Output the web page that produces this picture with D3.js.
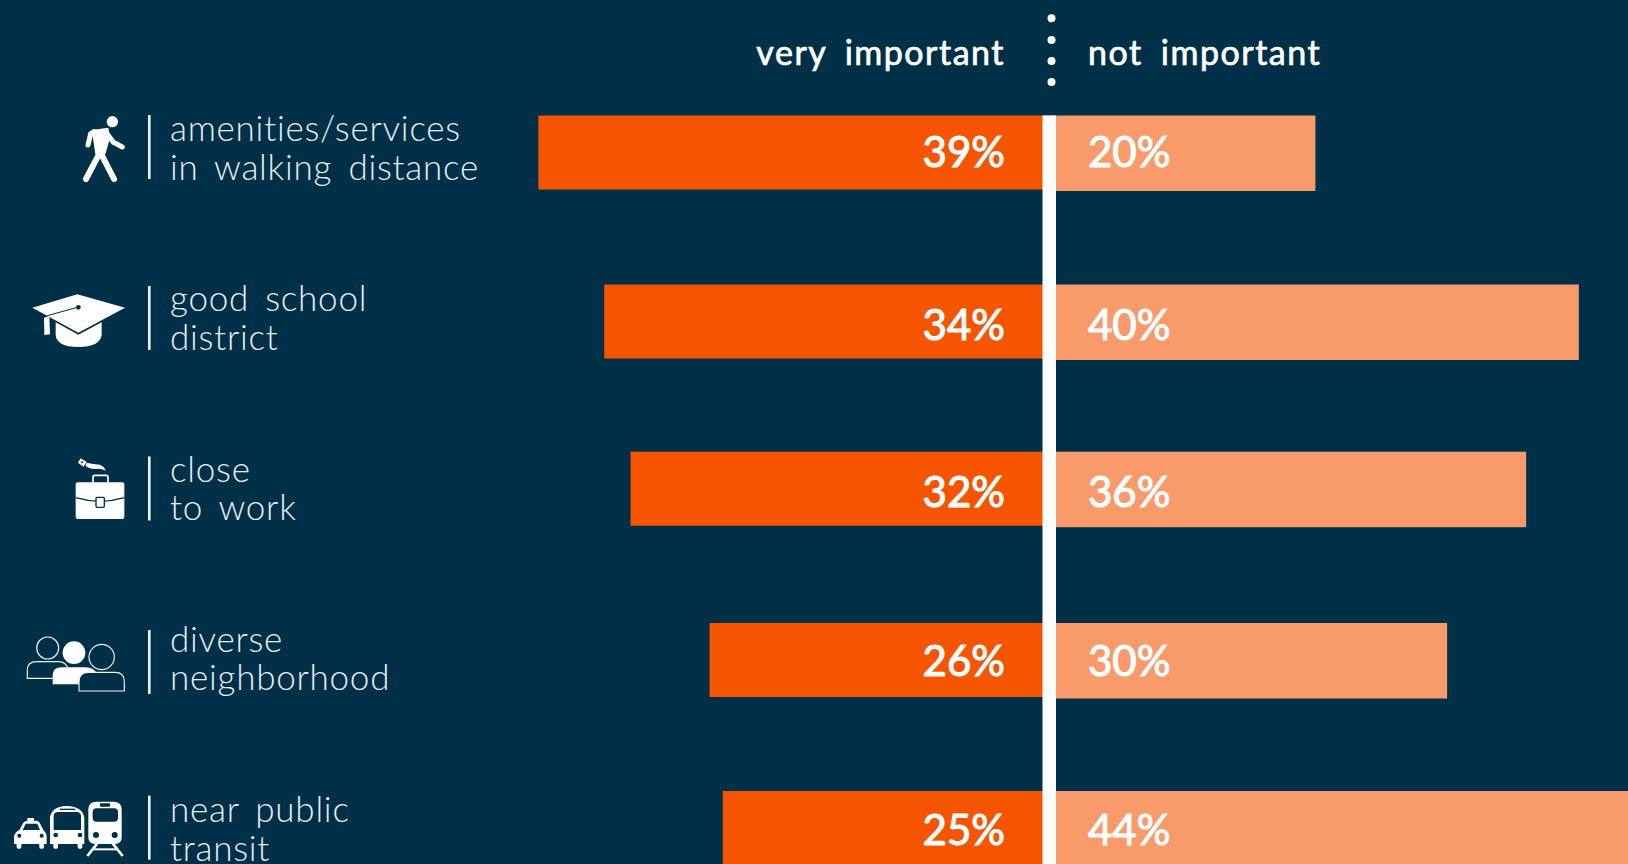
<!DOCTYPE html>
<html>
<head>
<meta charset="utf-8">
<script src="https://cdn.jsdelivr.net/npm/d3@7"></script>
<style>
  html, body { margin: 0; padding: 0; background: #003047; overflow: hidden; }
  svg { display: block; }
  text { fill: #fff; font-family: Lato, "Open Sans", sans-serif; }
</style>
</head>
<body>
<svg id="chart" width="1628" height="864"></svg>
<script>
// Survey results: what matters when choosing where to live
const categories = ["walking", "school", "work", "diverse", "transit"];
const labelLines = [
  ["amenities/services", "in walking distance"],
  ["good school", "district"],
  ["close", "to work"],
  ["diverse", "neighborhood"],
  ["near public", "transit"]
];
const veryImportant = [39, 34, 32, 26, 25];
const notImportant = [20, 40, 36, 30, 44];
const headerLeft = "very important";
const headerRight = "not important";

// Layout of the rows; the label column and bar column sit on slightly different rhythms
const barTops = [115.5, 284.5, 451.7, 623, 791];
const valueBaselines = [167.4, 339.8, 507, 676, 844.5];
const ruleTops = [115, 286, 456.5, 630, 795.7];
const labelBaselines = [141, 311.3, 481.6, 651.9, 822.2];

const BG = "#003047", ORANGE = "#f55500", PEACH = "#f99a6a", WHITE = "#ffffff";
const CENTER = 1052;

const svg = d3.select("#chart");
svg.append("rect").attr("width", 1628).attr("height", 864).attr("fill", BG);

// One length scale shared by both directions, measured out from the centre
const len = d3.scaleLinear().domain([0, 44]).range([0, 579.5]);

const rows = svg.append("g").selectAll("g").data(categories).join("g");

rows.append("rect")
  .attr("x", (c, i) => CENTER - len(veryImportant[i]))
  .attr("y", (c, i) => barTops[i])
  .attr("width", (c, i) => len(veryImportant[i]))
  .attr("height", 74)
  .attr("fill", ORANGE);

rows.append("rect")
  .attr("x", CENTER)
  .attr("y", (c, i) => barTops[i])
  .attr("width", (c, i) => len(notImportant[i]))
  .attr("height", 75.5)
  .attr("fill", PEACH);

// Central divider
svg.append("rect").attr("x", 1042.5).attr("y", 115.5).attr("width", 13.5).attr("height", 750).attr("fill", WHITE);

// Value labels, thickened slightly with a hairline stroke
const valueText = sel => sel
  .attr("y", (c, i) => valueBaselines[i])
  .attr("font-size", 42).attr("font-weight", 400)
  .attr("stroke", WHITE).attr("stroke-width", 1.1);
rows.append("text").call(valueText)
  .attr("x", 1005).attr("text-anchor", "end")
  .text((c, i) => veryImportant[i] + "%");
rows.append("text").call(valueText)
  .attr("x", 1088)
  .text((c, i) => notImportant[i] + "%");

// Column headers and the dotted separator
const headerText = sel => sel
  .attr("y", 65).attr("font-size", 34).attr("font-weight", 400)
  .attr("stroke", WHITE).attr("stroke-width", 0.7)
  .attr("letter-spacing", 1.5).attr("word-spacing", 8);
svg.append("text").call(headerText).attr("x", 1005).attr("text-anchor", "end").text(headerLeft);
svg.append("text").call(headerText).attr("x", 1088).text(headerRight);
svg.append("g").selectAll("circle").data([18.3, 40, 61, 82]).join("circle")
  .attr("cx", 1051.5).attr("cy", d => d).attr("r", 4).attr("fill", WHITE);

// Category labels with a short rule beside them
rows.append("rect")
  .attr("x", 148).attr("y", (c, i) => ruleTops[i]).attr("width", 2.6).attr("height", 64).attr("fill", "#eef2f4");
rows.each(function (c, i) {
  const t = d3.select(this).append("text").attr("font-size", 35).attr("font-weight", 300)
    .attr("letter-spacing", 0.75).attr("word-spacing", 6).style("fill", "#e9eef1");
  labelLines[i].forEach((line, k) => {
    t.append("tspan").attr("x", 170).attr("y", labelBaselines[i] + k * 38.5).text(line);
  });
});

// Pictograms, authored on a 3x grid and placed relative to each rule
const iconPlacement = {
  walking: [70, -10], school: [20, -1], work: [60, -6.5], diverse: [20, -5], transit: [0, -15.7]
};
const icons = {
  walking(g) {
    g.append("circle").attr("cx", 127).attr("cy", 50).attr("r", 17).attr("fill", WHITE);
    g.append("path").attr("d", "M65,75 L115,68 L120,100 L106,148 L76,148 L72,120 Z").attr("fill", WHITE);
    g.append("path").attr("fill", "none").attr("stroke", WHITE).attr("stroke-width", 15).attr("stroke-linecap", "round").attr("stroke-linejoin", "round")
      .attr("d", "M72,80 L62,86 L54,120 M108,82 L130,112 L157,126");
    g.append("path").attr("fill", "none").attr("stroke", WHITE).attr("stroke-width", 18).attr("stroke-linecap", "round")
      .attr("d", "M88,146 L48,222 M93,146 L132,222");
  },
  school(g) {
    g.append("path").attr("fill", WHITE).attr("d", "M107,112 L175,149 L245,112 L245,150 Q240,186 175,186 Q110,186 107,150 Z");
    g.append("path").attr("fill", WHITE).attr("d", "M37,68 L172,28 L315,68 L175,143 Z");
    g.append("path").attr("fill", WHITE).attr("d", "M72,98 L88,93 L90,148 L73,150 Z");
    g.append("path").attr("stroke", BG).attr("stroke-width", 3).attr("fill", "none").attr("d", "M82,92 L172,67");
    g.append("circle").attr("cx", 175).attr("cy", 67).attr("r", 7).attr("fill", BG);
  },
  work(g) {
    g.append("rect").attr("x", 99).attr("y", 76).attr("width", 45).attr("height", 30).attr("rx", 5).attr("fill", "none").attr("stroke", WHITE).attr("stroke-width", 5);
    g.append("rect").attr("x", 47).attr("y", 97).attr("width", 146).attr("height", 110).attr("rx", 6).attr("fill", WHITE);
    g.append("path").attr("d", "M47,143 Q120,165 193,143").attr("stroke", BG).attr("stroke-width", 4).attr("fill", "none");
    g.append("rect").attr("x", 108).attr("y", 142).attr("width", 25).attr("height", 30).attr("rx", 3).attr("fill", WHITE).attr("stroke", BG).attr("stroke-width", 4);
    g.append("path").attr("fill", WHITE).attr("d", "M62,25 L80,36 L70,50 L54,38 Z");
    g.append("path").attr("fill", WHITE).attr("d", "M80,38 Q100,43 120,44 Q134,50 137,62 Q125,55 105,57 Q85,55 76,47 Z");
    g.append("circle").attr("cx", 66).attr("cy", 37).attr("r", 3).attr("fill", BG);
  },
  diverse(g) {
    const outline = sel => sel.attr("fill", BG).attr("stroke", "#eef2f4").attr("stroke-width", 3.5);
    outline(g.append("circle").attr("cx", 83).attr("cy", 69).attr("r", 33));
    outline(g.append("path").attr("d", "M22,160 V135 Q22,110 50,110 H115 Q140,110 145,135 V160 Z"));
    g.append("circle").attr("cx", 162).attr("cy", 83).attr("r", 34).attr("fill", WHITE);
    g.append("path").attr("fill", WHITE).attr("d", "M98,178 V152 Q98,127 125,127 H195 Q225,127 232,150 V178 Z");
    outline(g.append("circle").attr("cx", 245).attr("cy", 96).attr("r", 38));
    outline(g.append("path").attr("d", "M177,198 V170 Q177,142 205,142 H285 Q313,142 313,170 V198 Z"));
  },
  transit(g) {
    // taxi
    g.append("rect").attr("x", 82).attr("y", 114).attr("width", 20).attr("height", 10).attr("fill", WHITE);
    g.append("path").attr("fill", WHITE).attr("d", "M58,150 L70,128 Q74,122 85,122 H108 Q115,122 119,128 L130,150 Q140,158 140,172 V192 H42 V172 Q42,158 58,150 Z");
    g.append("path").attr("fill", BG).attr("d", "M68,150 L77,131 H112 L120,150 Z");
    [50, 118].forEach(x => g.append("rect").attr("x", x).attr("y", 188).attr("width", 14).attr("height", 18).attr("rx", 5).attr("fill", WHITE));
    [58, 125].forEach(x => g.append("circle").attr("cx", x).attr("cy", 167).attr("r", 6).attr("fill", BG));
    // bus
    g.append("path").attr("fill", WHITE).attr("d", "M150,192 V115 Q152,80 200,78 Q250,80 253,115 V192 Z");
    g.append("path").attr("fill", BG).attr("d", "M161,150 V108 Q161,98 172,96 H232 Q243,98 243,108 V150 Z");
    g.append("rect").attr("x", 180).attr("y", 86).attr("width", 46).attr("height", 4).attr("fill", BG);
    [160, 233].forEach(x => g.append("rect").attr("x", x).attr("y", 188).attr("width", 14).attr("height", 18).attr("rx", 5).attr("fill", WHITE));
    [167, 240].forEach(x => g.append("circle").attr("cx", x).attr("cy", 165).attr("r", 7).attr("fill", BG));
    // train
    g.append("path").attr("fill", WHITE).attr("d", "M265,172 V88 Q265,65 290,65 H340 Q365,65 365,88 V172 Q365,192 345,192 H285 Q265,192 265,172 Z");
    g.append("rect").attr("x", 278).attr("y", 85).attr("width", 76).attr("height", 40).attr("rx", 12).attr("fill", BG);
    g.append("rect").attr("x", 300).attr("y", 70).attr("width", 30).attr("height", 10).attr("rx", 2).attr("fill", BG);
    [288, 344].forEach(x => g.append("circle").attr("cx", x).attr("cy", 165).attr("r", 9).attr("fill", BG));
    g.append("path").attr("fill", "none").attr("stroke", WHITE).attr("stroke-width", 8).attr("d", "M292,190 L262,228 M338,190 L368,228");
    g.append("path").attr("fill", "none").attr("stroke", WHITE).attr("stroke-width", 6).attr("d", "M280,208 H350");
  }
};
rows.each(function (c, i) {
  const [ix, iy] = iconPlacement[c];
  const g = d3.select(this).append("g").attr("transform", `translate(${ix},${ruleTops[i] + iy}) scale(${1 / 3})`);
  icons[c](g);
});
</script>
</body>
</html>
